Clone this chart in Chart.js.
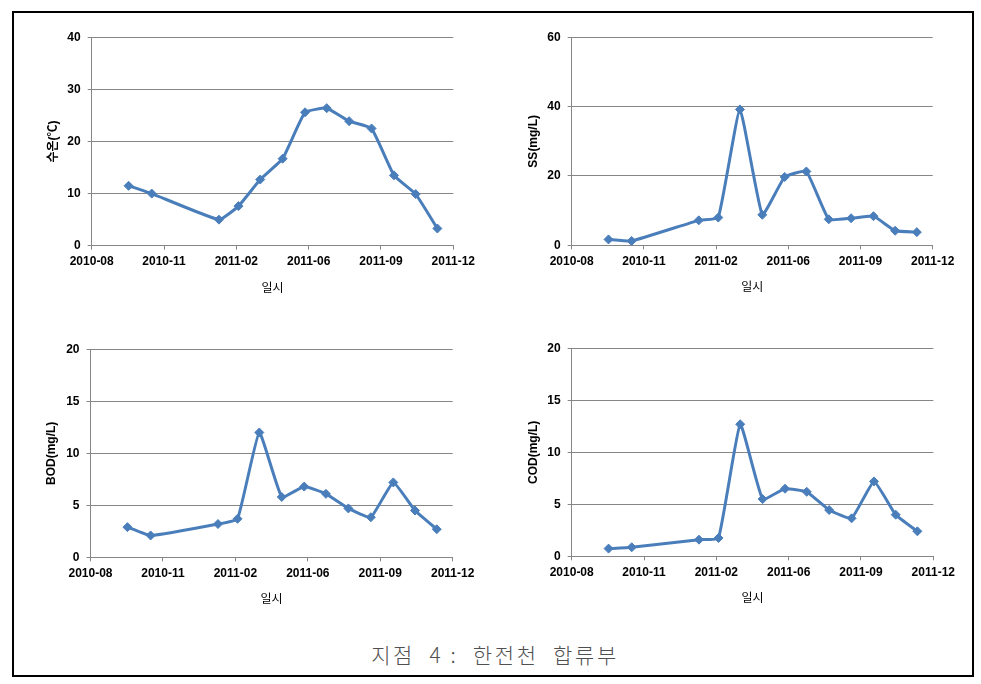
<!DOCTYPE html>
<html>
<head>
<meta charset="utf-8">
<script src="https://cdn.jsdelivr.net/npm/chart.js@4"></script>
<style>
  body { margin: 0; background: #fff; }
  #page { position: relative; width: 981px; height: 684px; background: #fff; overflow: hidden; }
  #frame { position: absolute; left: 12px; top: 11px; width: 958px; height: 662px; border: 2px solid #000; }
  canvas { position: absolute; }
  #caption {
    position: absolute; left: 0; width: 990px; top: 642px; text-align: center;
    font-family: "Noto Sans CJK KR", sans-serif; font-weight: 300; font-size: 21px;
    line-height: 24px; color: #505050; white-space: pre; letter-spacing: 2.6px;
  }
</style>
</head>
<body>
<div id="page">
  <div id="frame"></div>
  <canvas id="tempChart" width="470" height="295" style="left:15px;top:15px"></canvas>
  <canvas id="ssChart" width="470" height="295" style="left:495px;top:15px"></canvas>
  <canvas id="bodChart" width="470" height="295" style="left:15px;top:325px"></canvas>
  <canvas id="codChart" width="470" height="295" style="left:495px;top:325px"></canvas>
  <div id="caption">지점  4 :  한전천  합류부</div>
</div>
<script>
// 측정일
const sampleDates = [
  "2010-09-30", "2010-11-01", "2011-02-02", "2011-03-01", "2011-03-31", "2011-05-01", "2011-06-01",
  "2011-07-01", "2011-08-01", "2011-09-01", "2011-10-02", "2011-11-01", "2011-12-01"
];
const waterTemp = [11.5, 10.0, 5.0, 7.6, 12.7, 16.7, 25.6, 26.4, 23.9, 22.5, 13.5, 9.9, 3.3];
const ssValues = [1.7, 1.25, 7.2, 8.0, 39.2, 8.8, 19.7, 21.3, 7.5, 7.8, 8.4, 4.2, 3.8];
const bodValues = [2.9, 2.1, 3.2, 3.7, 12.0, 5.8, 6.8, 6.1, 4.7, 3.85, 7.2, 4.5, 2.7];
const codValues = [0.74, 0.87, 1.6, 1.76, 12.7, 5.5, 6.5, 6.2, 4.45, 3.65, 7.2, 4.0, 2.4];

// x축: 엑셀 날짜 일련번호 (40400 = 2010-08-10), 100일 간격
const xAxisMin = 40400;
const xAxisMax = 40900;
const xAxisStep = 100;

const xTitle = "일시";
const lineColor = "#4A7EBB";
const gridColor = "#868686";
const tickFont = { family: "'Liberation Sans', 'Noto Sans CJK KR'", size: 12, weight: "bold" };

function toSerial(dateStr) {
  const p = dateStr.split("-").map(Number);
  return (Date.UTC(p[0], p[1] - 1, p[2]) - Date.UTC(1899, 11, 30)) / 86400000;
}

function serialToLabel(serial) {
  const d = new Date(Date.UTC(1899, 11, 30) + serial * 86400000);
  return d.getUTCFullYear() + "-" + String(d.getUTCMonth() + 1).padStart(2, "0");
}

// area: 페이지 기준 플롯 영역
function drawPanel(canvasId, values, yTitle, yMax, yStep, area) {
  const canvas = document.getElementById(canvasId);
  const cx = parseFloat(canvas.style.left);
  const cy = parseFloat(canvas.style.top);
  const W = canvas.width;
  const H = canvas.height;
  const L = area.l - cx;
  const R = area.r - cx;
  const T = area.t - cy;
  const B = area.b - cy;
  const xHeight = 41.5 + 7.2;

  new Chart(canvas.getContext("2d"), {
    type: "line",
    data: {
      datasets: [{
        data: sampleDates.map((d, i) => ({ x: toSerial(d), y: values[i] })),
        borderColor: lineColor,
        backgroundColor: lineColor,
        borderWidth: 3,
        tension: 0.12,
        pointStyle: "rectRot",
        pointRadius: 4.5,
        pointBorderWidth: 1,
        pointBackgroundColor: lineColor,
        pointBorderColor: lineColor,
      }],
    },
    options: {
      responsive: false,
      animation: false,
      devicePixelRatio: 1,
      layout: { padding: { left: 0, top: T, right: W - R, bottom: H - B - xHeight } },
      plugins: { legend: { display: false }, tooltip: { enabled: false } },
      scales: {
        x: {
          type: "linear",
          min: xAxisMin,
          max: xAxisMax,
          afterFit: (s) => { s.height = xHeight; },
          grid: { drawOnChartArea: false, tickLength: 4, color: gridColor },
          border: { color: gridColor },
          ticks: {
            stepSize: xAxisStep,
            autoSkip: false,
            maxRotation: 0,
            padding: 5,
            color: "#000",
            font: tickFont,
            callback: (v) => serialToLabel(v),
          },
          title: {
            display: true,
            text: xTitle,
            color: "#000",
            padding: { top: 0, bottom: 0 },
            font: { family: "'Noto Sans CJK KR'", size: 12 },
          },
        },
        y: {
          min: 0,
          max: yMax,
          afterFit: (s) => { s.width = L; },
          grid: { tickLength: 4, color: gridColor },
          border: { color: gridColor },
          ticks: { stepSize: yStep, padding: 7, color: "#000", font: tickFont },
          title: {
            display: true,
            text: yTitle,
            color: "#000",
            padding: { top: L - 38.4 - 7.2, bottom: 0 },
            font: tickFont,
          },
        },
      },
    },
  });
}

drawPanel("tempChart", waterTemp, "수온(℃)", 40, 10, { l: 91.7, r: 453.3, t: 37.3, b: 245.7 });
drawPanel("ssChart", ssValues, "SS(mg/L)", 60, 20, { l: 571.7, r: 932.7, t: 37.3, b: 245.3 });
drawPanel("bodChart", bodValues, "BOD(mg/L)", 20, 5, { l: 90.5, r: 452.7, t: 349.3, b: 557.3 });
drawPanel("codChart", codValues, "COD(mg/L)", 20, 5, { l: 571.7, r: 933.3, t: 348.3, b: 556.3 });
</script>
</body>
</html>
